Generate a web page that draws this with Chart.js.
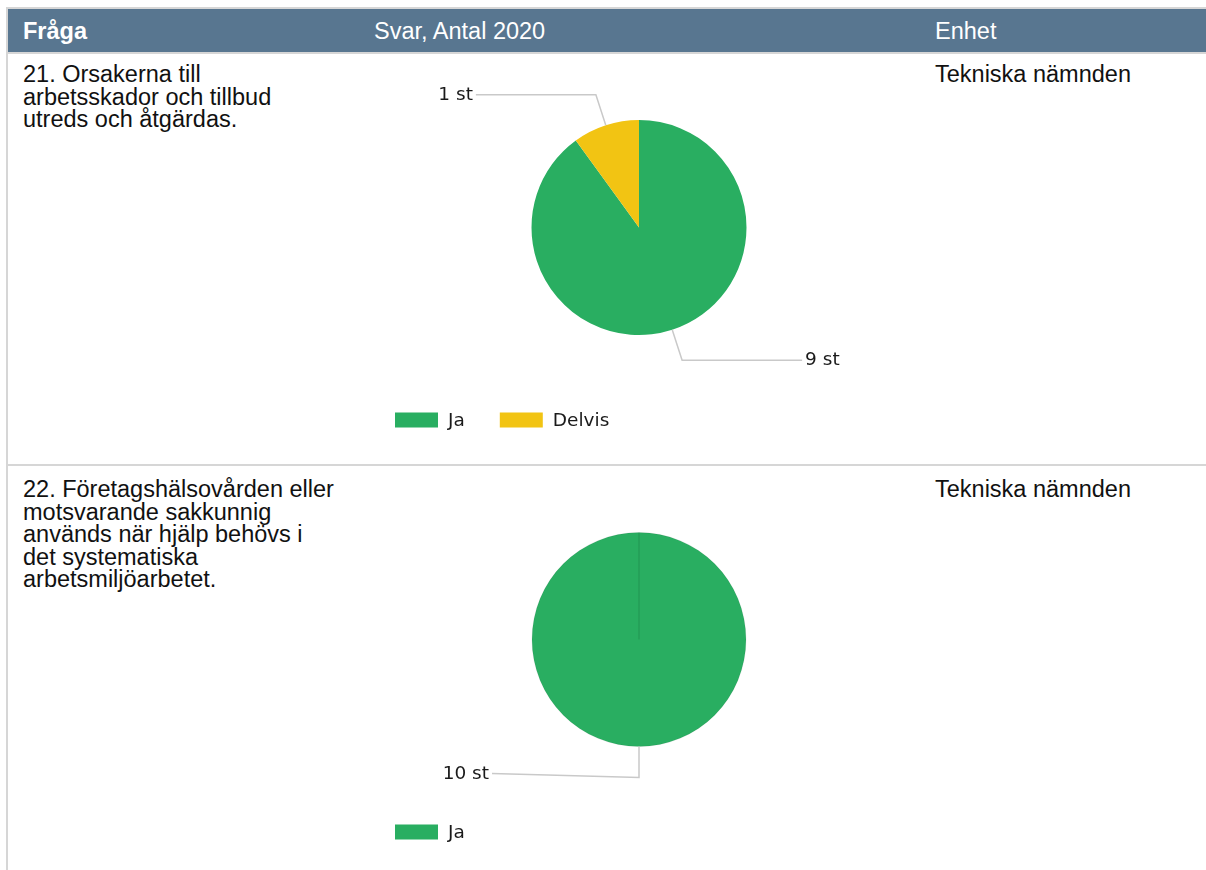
<!DOCTYPE html>
<html>
<head>
<meta charset="utf-8">
<script src="https://cdn.jsdelivr.net/npm/chart.js@4.4.1/dist/chart.umd.min.js"></script>
<style>
  html, body { margin: 0; padding: 0; background: #ffffff; }
  body { width: 1206px; height: 870px; position: relative; overflow: hidden; font-family: "Liberation Sans", Arial, sans-serif; }
  .abs { position: absolute; }
  .hline { position: absolute; background: #d6d6d6; }
  #header { position: absolute; left: 8px; top: 9px; width: 1198px; height: 43px; background: #587690; }
  .htext { position: absolute; top: 9px; height: 43px; line-height: 44px; color: #ffffff; font-size: 23.5px; white-space: nowrap; }
  .btext { position: absolute; color: #111111; font-size: 23.5px; line-height: 22.5px; white-space: nowrap; }
  canvas { position: absolute; }
</style>
</head>
<body>
<div class="hline" style="left:6px; top:7px; width:1200px; height:2px;"></div>
<div id="header"></div>
<div class="hline" style="left:8px; top:52px; width:1198px; height:2px;"></div>
<div class="hline" style="left:6px; top:7px; width:2px; height:863px;"></div>
<div class="hline" style="left:8px; top:464px; width:1198px; height:2px;"></div>

<div id="h1" class="htext" style="left:23px; font-weight:bold;"></div>
<div id="h2" class="htext" style="left:374px;"></div>
<div id="h3" class="htext" style="left:935px;"></div>

<div id="q1" class="btext" style="left:23px; top:63px;"></div>
<div id="u1" class="btext" style="left:935px; top:63px;"></div>
<div id="q2" class="btext" style="left:23px; top:478px;"></div>
<div id="u2" class="btext" style="left:935px; top:478px;"></div>

<canvas id="c1" width="560" height="410" style="left:374px; top:54px;"></canvas>
<canvas id="c2" width="560" height="404" style="left:374px; top:466px;"></canvas>

<script>
// ---- data ----
const headerLabels = ["Fråga", "Svar, Antal 2020", "Enhet"];
const question1Lines = ["21. Orsakerna till", "arbetsskador och tillbud", "utreds och åtgärdas."];
const question2Lines = ["22. Företagshälsovården eller", "motsvarande sakkunnig", "används när hjälp behövs i", "det systematiska", "arbetsmiljöarbetet."];
const unit1 = "Tekniska nämnden";
const unit2 = "Tekniska nämnden";
const categories1 = ["Ja", "Delvis"];
const values1 = [9, 1];
const categories2 = ["Ja"];
const values2 = [10];
const valueSuffix = " st";

// ---- styles ----
const colorMap = { "Ja": "#29ae61", "Delvis": "#f2c413" };

document.getElementById('h1').textContent = headerLabels[0];
document.getElementById('h2').textContent = headerLabels[1];
document.getElementById('h3').textContent = headerLabels[2];
function setLines(id, lines) {
  const el = document.getElementById(id);
  lines.forEach((l, i) => {
    if (i) el.appendChild(document.createElement('br'));
    el.appendChild(document.createTextNode(l));
  });
}
setLines('q1', question1Lines);
setLines('q2', question2Lines);
setLines('u1', [unit1]);
setLines('u2', [unit2]);

const leaderPlugin = {
  id: 'leader',
  afterDatasetsDraw(chart, args, opts) {
    const ctx = chart.ctx;
    const meta = chart.getDatasetMeta(0);
    const ds = chart.data.datasets[0];
    meta.data.forEach((arc, i) => {
      const p = arc.getProps(['x', 'y', 'startAngle', 'endAngle', 'outerRadius'], true);
      const mid = (p.startAngle + p.endAngle) / 2;
      const c = Math.cos(mid), s = Math.sin(mid);
      const x0 = p.x + p.outerRadius * c, y0 = p.y + p.outerRadius * s;
      const x1 = p.x + (p.outerRadius + opts.elbow) * c, y1 = p.y + (p.outerRadius + opts.elbow) * s;
      const dir = c > 0.01 ? 1 : -1;
      const x2 = x1 + dir * opts.length, y2 = y1 + opts.rise;
      ctx.save();
      ctx.strokeStyle = opts.lineColor;
      ctx.lineWidth = 1.5;
      ctx.beginPath();
      ctx.moveTo(x0, y0);
      ctx.lineTo(x1, y1);
      ctx.lineTo(x2, y2);
      ctx.stroke();
      ctx.font = opts.font;
      ctx.fillStyle = opts.textColor;
      ctx.textBaseline = 'middle';
      ctx.textAlign = dir > 0 ? 'left' : 'right';
      ctx.fillText(ds.data[i] + valueSuffix, x2 + dir * 3, y2 + 0.5);
      ctx.restore();
    });
    // legend
    const cx = meta.data[0].x, cy = meta.data[0].y;
    let lx = cx + opts.legendDx;
    const ly = cy + opts.legendDy;
    ctx.save();
    ctx.font = opts.font;
    ctx.textBaseline = 'middle';
    ctx.textAlign = 'left';
    chart.data.labels.forEach((lab, i) => {
      ctx.fillStyle = ds.backgroundColor[i];
      ctx.fillRect(lx, ly - 7.5, 43, 15);
      ctx.fillStyle = opts.textColor;
      ctx.fillText(lab, lx + 53, ly + 1);
      lx += 53 + ctx.measureText(lab).width + 35;
    });
    ctx.restore();
  }
};

function makePie(id, labels, values, bottomPad, leaderOpts, border) {
  new Chart(document.getElementById(id), {
    type: 'pie',
    data: {
      labels: labels,
      datasets: [{
        data: values,
        backgroundColor: labels.map(l => colorMap[l]),
        borderWidth: border ? 1 : 0,
        borderColor: 'rgba(0,0,0,0.07)'
      }]
    },
    options: {
      responsive: false,
      animation: false,
      devicePixelRatio: 1,
      layout: { padding: { left: 157.5, right: 187.5, top: 66, bottom: bottomPad } },
      plugins: {
        legend: { display: false },
        tooltip: { enabled: false },
        leader: leaderOpts
      }
    },
    plugins: [leaderPlugin]
  });
}

const baseLeader = {
  elbow: 32, rise: 0, lineColor: '#c9c9c9', textColor: '#1a1a1a',
  font: '18.5px "DejaVu Sans"', legendDx: -244, legendDy: 192.5
};
makePie('c1', categories1, values1, 129, Object.assign({}, baseLeader, { length: 120 }), false);
makePie('c2', categories2, values2, 123, Object.assign({}, baseLeader, { length: 147, rise: -4, elbow: 31 }), true);
</script>
</body>
</html>
